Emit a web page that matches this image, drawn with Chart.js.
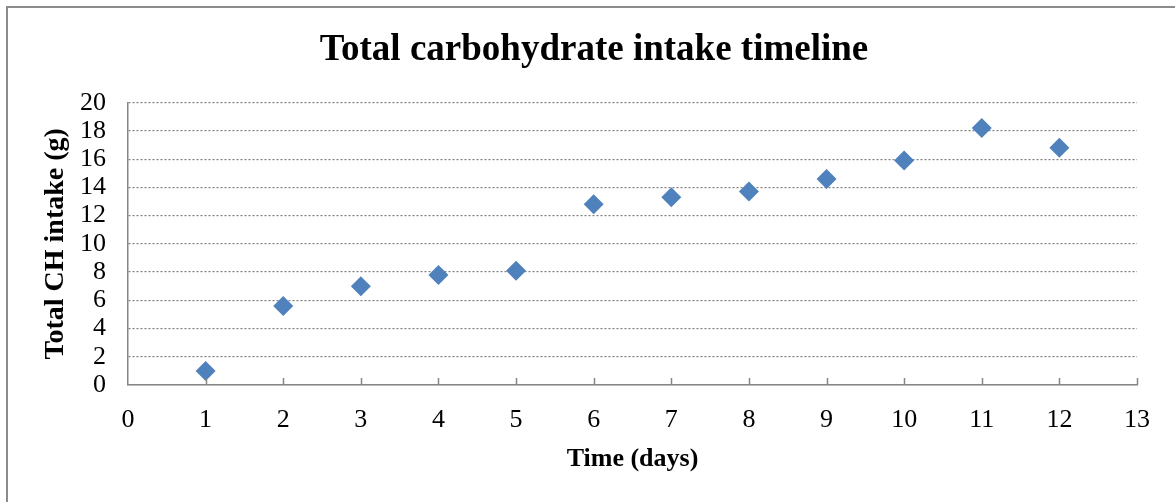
<!DOCTYPE html>
<html>
<head>
<meta charset="utf-8">
<title>Total carbohydrate intake timeline</title>
<script src="https://cdn.jsdelivr.net/npm/chart.js@4/dist/chart.umd.min.js"></script>
<style>
  html, body { margin: 0; padding: 0; background: #ffffff; }
  #wrap { width: 1175px; height: 502px; }
</style>
</head>
<body>
<div id="wrap"><canvas id="chart" width="1175" height="502"></canvas></div>
<script>
// Day number and total carbohydrate intake (g) for that day
const days = [1, 2, 3, 4, 5, 6, 7, 8, 9, 10, 11, 12];
const intake = [1.0, 5.6, 7.0, 7.8, 8.1, 12.8, 13.3, 13.7, 14.6, 15.9, 18.2, 16.8];

// Axis ranges and tick steps
const xRange = [0, 13];
const xStep = 1;
const yRange = [0, 20];
const yStep = 2;

const titleText = 'Total carbohydrate intake timeline';
const xTitle = 'Time (days)';
const yTitle = 'Total CH intake (g)';

const serif = "'Liberation Serif', 'Times New Roman', 'DejaVu Serif', serif";
const axisGray = '#868686';
const markerBlue = '#4F81BD';

const points = days.map((d, i) => ({ x: d, y: intake[i] }));

// White page with a grey frame around the chart
const framePlugin = {
  id: 'frame',
  beforeDraw(chart) {
    const ctx = chart.ctx;
    ctx.save();
    ctx.fillStyle = '#ffffff';
    ctx.fillRect(0, 0, chart.width, chart.height);
    ctx.strokeStyle = '#8c8c8c';
    ctx.lineWidth = 2;
    ctx.strokeRect(7, 7, chart.width + 20, chart.height + 20);
    ctx.restore();
  }
};

// Short tick marks pointing up into the plot from the x axis
const innerTicksPlugin = {
  id: 'innerTicks',
  afterDraw(chart) {
    const xs = chart.scales.x;
    const ctx = chart.ctx;
    const base = chart.chartArea.bottom;
    ctx.save();
    ctx.strokeStyle = axisGray;
    ctx.lineWidth = 1.5;
    ctx.beginPath();
    xs.ticks.forEach(t => {
      if (t.value === xRange[0]) return;
      const px = Math.round(xs.getPixelForValue(t.value)) + 0.5;
      ctx.moveTo(px, base);
      ctx.lineTo(px, base - 7);
    });
    ctx.stroke();
    ctx.restore();
  }
};

new Chart(document.getElementById('chart'), {
  type: 'scatter',
  data: {
    datasets: [{
      label: 'Total CH intake',
      data: points,
      pointStyle: 'rectRot',
      pointRadius: 10,
      pointHoverRadius: 10,
      borderWidth: 0,
      backgroundColor: markerBlue,
      borderColor: markerBlue
    }]
  },
  options: {
    responsive: false,
    animation: false,
    devicePixelRatio: 1,
    layout: { padding: { left: 13, right: 0, top: 0, bottom: 0 } },
    plugins: {
      legend: { display: false },
      tooltip: { enabled: false },
      title: {
        display: true,
        text: titleText,
        color: '#000000',
        font: { family: serif, size: 37, weight: 'bold', lineHeight: 1.2 },
        padding: { top: 28, bottom: 30.3 }
      }
    },
    scales: {
      x: {
        type: 'linear',
        min: xRange[0],
        max: xRange[1],
        afterFit(scale) {
          scale.height = 117;
          scale.paddingRight = 38;
        },
        ticks: {
          stepSize: xStep,
          autoSkip: false,
          color: '#000000',
          padding: 20,
          font: { family: serif, size: 26 },
          maxRotation: 0
        },
        grid: { display: true, drawOnChartArea: false, drawTicks: false },
        border: { display: true, color: axisGray, width: 1.5 },
        title: {
          display: true,
          text: xTitle,
          color: '#000000',
          font: { family: serif, size: 26, weight: 'bold', lineHeight: 1.2 },
          padding: { top: 0, bottom: 27 }
        }
      },
      y: {
        type: 'linear',
        min: yRange[0],
        max: yRange[1],
        afterFit(scale) { scale.width = 115; },
        ticks: {
          stepSize: yStep,
          autoSkip: false,
          color: '#000000',
          padding: 22,
          font: { family: serif, size: 26 }
        },
        grid: { color: '#7f7f7f', lineWidth: 1.2, drawTicks: false },
        border: { display: true, color: axisGray, width: 1.5, dash: [2, 2] },
        title: {
          display: true,
          text: yTitle,
          color: '#000000',
          font: { family: serif, size: 28, weight: 'bold', lineHeight: 1.2 },
          padding: { top: 26, bottom: 0 }
        }
      }
    }
  },
  plugins: [framePlugin, innerTicksPlugin]
});
</script>
</body>
</html>
